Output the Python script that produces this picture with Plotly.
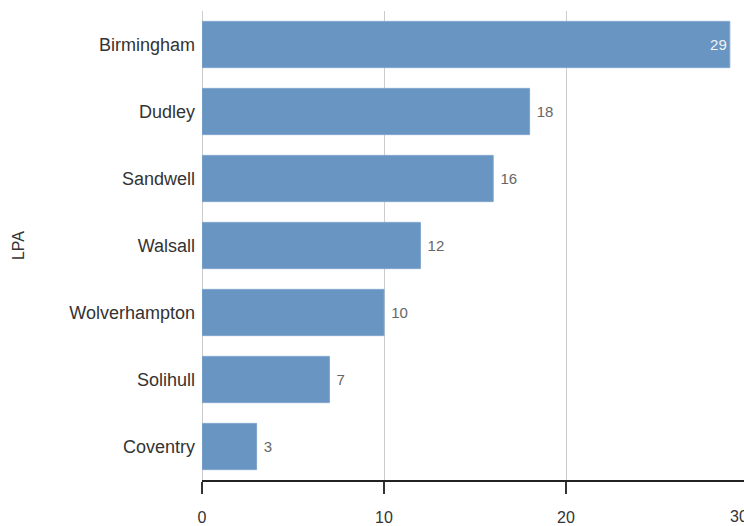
import plotly.graph_objects as go

# Local planning authorities and their counts
lpas = ["Coventry", "Solihull", "Wolverhampton", "Walsall", "Sandwell", "Dudley", "Birmingham"]
counts = [3, 7, 10, 12, 16, 18, 29]

x_ticks = [0, 10, 20, 30]
x_range = [0, 29.78]

bar_color = "#6995c3"
font_family = "Arial, 'Liberation Sans', sans-serif"

# Largest bar carries its label inside, the rest outside
positions = ["inside" if v == max(counts) else "outside" for v in counts]
text_colors = ["#f2f2f2" if p == "inside" else "#666666" for p in positions]
labels = [str(v) if p == "inside" else " " + str(v) for v, p in zip(counts, positions)]

fig = go.Figure(
    go.Bar(
        y=lpas,
        x=counts,
        orientation="h",
        marker=dict(color=bar_color, line=dict(color="#7fa4cc", width=1)),
        text=labels,
        textposition=positions,
        insidetextanchor="end",
        textfont=dict(family=font_family, size=15, color=text_colors),
        cliponaxis=False,
        hoverinfo="skip",
    )
)

fig.update_layout(
    width=744,
    height=526,
    margin=dict(l=202, r=0, t=11, b=46),
    paper_bgcolor="white",
    plot_bgcolor="white",
    bargap=0.31,
    showlegend=False,
    font=dict(family=font_family, color="#333333"),
    uniformtext=dict(minsize=15, mode="show"),
)

fig.update_xaxes(
    range=x_range,
    tickvals=x_ticks,
    automargin=False,
    showgrid=True,
    gridcolor="#cccccc",
    gridwidth=1,
    zeroline=True,
    zerolinecolor="#cccccc",
    zerolinewidth=1,
    showline=True,
    linecolor="#222222",
    linewidth=1.5,
    ticks="outside",
    ticklen=12,
    tickwidth=1.5,
    tickcolor="#333333",
    tickfont=dict(size=16, color="#333333"),
    ticklabelstandoff=10,
    fixedrange=True,
)

fig.update_yaxes(
    automargin=False,
    title=dict(text="LPA", font=dict(size=16, color="#333333"), standoff=40),
    tickfont=dict(size=18, color="#333333"),
    showgrid=False,
    showline=False,
    ticks="",
    ticklabelstandoff=6,
    fixedrange=True,
)

# Tick labels past the right edge of the visible range are drawn as annotations
for t in x_ticks:
    if t > x_range[1]:
        fig.add_annotation(
            x=t / x_range[1],
            xref="paper",
            xshift=-9,
            y=-0.078,
            yref="paper",
            text=str(t),
            showarrow=False,
            xanchor="center",
            yanchor="middle",
            font=dict(family=font_family, size=16, color="#333333"),
        )

fig.write_html("out.html")
